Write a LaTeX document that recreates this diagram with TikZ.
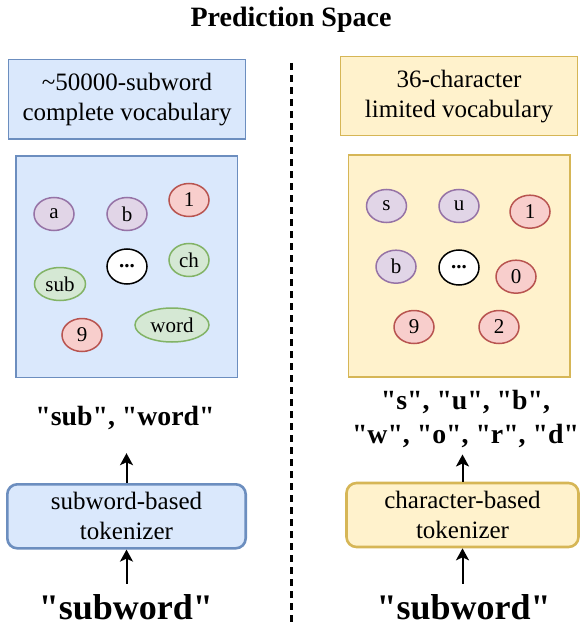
\documentclass[tikz,border=0pt]{standalone}
\usepackage{fontspec}
\setmainfont{Liberation Serif}
\usetikzlibrary{arrows.meta,shapes.geometric}

\definecolor{bleuF}{HTML}{DAE8FC}
\definecolor{bleuT}{HTML}{6C8EBF}
\definecolor{jauneF}{HTML}{FFF2CC}
\definecolor{jauneT}{HTML}{D6B656}
\definecolor{rougeF}{HTML}{F8CECC}
\definecolor{rougeT}{HTML}{B85450}
\definecolor{vertF}{HTML}{D5E8D4}
\definecolor{vertT}{HTML}{82B366}
\definecolor{violetF}{HTML}{E1D5E7}
\definecolor{violetT}{HTML}{9673A6}

% guillemets droits
\newcommand{\qt}[1]{\textquotedbl#1\textquotedbl}

\begin{document}
\begin{tikzpicture}[x=0.5pt,y=-0.5pt,
  boite/.style={draw, line width=0.75pt, align=center, inner sep=0pt, font=\fontsize{12.5}{15}\selectfont},
  tok/.style={boite, rounded corners=5pt, line width=1.3pt, minimum height=32pt},
  bulle/.style={ellipse, draw, line width=0.75pt, minimum width=20pt, minimum height=16.5pt, inner sep=0pt, font=\fontsize{10.5}{12}\selectfont},
  violet/.style={bulle, fill=violetF, draw=violetT},
  rouge/.style={bulle, fill=rougeF, draw=rougeT},
  vert/.style={bulle, fill=vertF, draw=vertT},
  sortie/.style={font=\bfseries\fontsize{13.9}{16.6}\selectfont, align=center, inner sep=1pt},
  entree/.style={font=\bfseries\fontsize{18}{21}\selectfont, anchor=base, inner sep=5pt},
  fleche/.style={-{Stealth[length=6pt,width=6.5pt,inset=1.5pt]}, line width=1pt}]

\useasboundingbox (0,0) rectangle (579,626);

\node[font=\bfseries\fontsize{14}{17}\selectfont, anchor=base] (titre) at (291,26.7) {Prediction Space};

% separation
\draw[line width=1.5pt, dash pattern=on 3.5pt off 2.5pt] (291,63) -- (291,626);

% Cote gauche (sous-mots, en bleu)
\node[boite, fill=bleuF, draw=bleuT, minimum width=118.7pt, minimum height=39.8pt] (vocL) at (127,99.2) {\textasciitilde50000-subword\\complete vocabulary};
\node[draw=bleuT, fill=bleuF, line width=0.75pt, minimum width=110.8pt, minimum height=110.7pt] (espL) at (126.8,266.7) {};

\node[violet] (a) at (54,214) {a};
\node[violet] (bL) at (127,214) {b};
\node[rouge] (unL) at (189,200) {1};
\node[vert] (ch) at (189,260) {ch};
\node[bulle, fill=white, draw=black, minimum height=17.5pt] (ptsL) at (127,266.5) {\textbf{...}};
\node[vert, minimum width=25.5pt] (sub) at (60,284) {sub};
\node[rouge] (neufL) at (82,335) {9};
\node[vert, minimum width=37pt, minimum height=17pt] (word) at (172,325) {word};

\node[sortie, anchor=base] (outL) at (125,425) {\qt{sub}, \qt{word}};
\node[tok, fill=bleuF, draw=bleuT, minimum width=119.2pt] (tokL) at (126.5,516.3) {subword-based\\tokenizer};
\node[entree] (subL) at (125.8,619) {\qt{subword}};

\draw[fleche, shorten >=10.75pt] (tokL.north) -- (tokL.north |- outL.south);
\draw[fleche] (tokL.south |- subL.north) -- (tokL.south);

% Cote droit (caracteres, en jaune)
\node[boite, fill=jauneF, draw=jauneT, minimum width=118.3pt, minimum height=39.5pt] (vocR) at (459,96.2) {36-character\\limited vocabulary};
\node[draw=jauneT, fill=jauneF, line width=0.75pt, minimum width=110.8pt, minimum height=111pt] (espR) at (459.2,266) {};

\node[violet] (s) at (386.5,206) {s};
\node[violet] (u) at (459,206) {u};
\node[rouge] (unR) at (530,211.7) {1};
\node[violet] (bR) at (396,266.7) {b};
\node[bulle, fill=white, draw=black, minimum height=17.5pt] (ptsR) at (459,267.5) {\textbf{...}};
\node[rouge] (zero) at (516,276.7) {0};
\node[rouge] (neufR) at (414,327) {9};
\node[rouge] (deux) at (499,327) {2};

\node[sortie] (outR) at (465.5,419) {\qt{s}, \qt{u}, \qt{b},\\\qt{w}, \qt{o}, \qt{r}, \qt{d}};
\node[tok, fill=jauneF, draw=jauneT, minimum width=116pt] (tokR) at (462.5,515) {character-based\\tokenizer};
\node[entree] (subR) at (463.7,619) {\qt{subword}};

\draw[fleche, shorten >=2.35pt] (tokR.north) -- (tokR.north |- outR.south);
\draw[fleche] (tokR.south |- subR.north) -- (tokR.south);

\end{tikzpicture}
\end{document}
